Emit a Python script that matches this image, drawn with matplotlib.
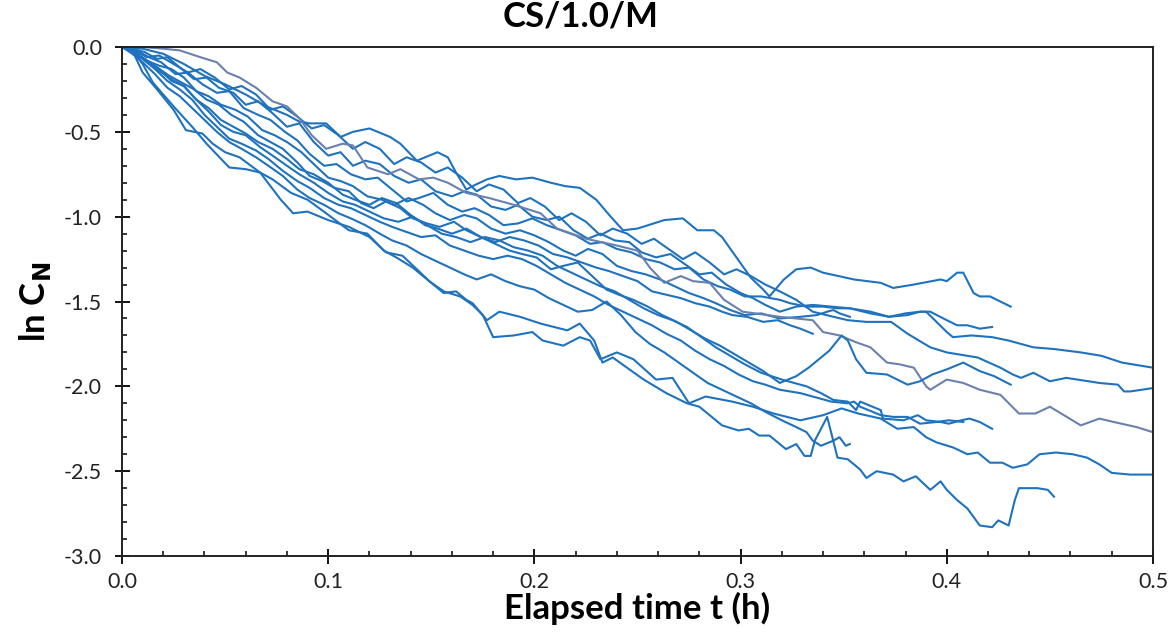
import matplotlib
matplotlib.use("Agg")
import matplotlib.pyplot as plt
from matplotlib.ticker import MultipleLocator, FormatStrFormatter

plt.rcParams['font.family'] = ['Lato', 'DejaVu Sans']
plt.rcParams['axes.unicode_minus'] = False

# each run: (elapsed time h, ln C_N)
run_a = [(0.000, 0.00), (0.010, -0.01), (0.020, -0.04), (0.030, -0.10), (0.040, -0.17), (0.050, -0.22),
         (0.060, -0.28), (0.070, -0.35), (0.080, -0.40), (0.086, -0.44), (0.091, -0.45), (0.099, -0.45),
         (0.106, -0.53), (0.112, -0.50), (0.120, -0.48), (0.130, -0.53), (0.135, -0.57), (0.143, -0.67),
         (0.153, -0.62), (0.158, -0.65), (0.162, -0.74), (0.167, -0.84), (0.170, -0.82), (0.177, -0.78),
         (0.183, -0.76), (0.191, -0.78), (0.199, -0.77), (0.208, -0.80), (0.215, -0.82), (0.222, -0.83),
         (0.230, -0.90), (0.237, -1.00), (0.243, -1.08), (0.250, -1.07), (0.263, -1.02), (0.272, -1.01),
         (0.279, -1.08), (0.287, -1.08), (0.291, -1.12), (0.298, -1.24), (0.305, -1.36), (0.311, -1.43),
         (0.314, -1.47), (0.321, -1.37), (0.327, -1.31), (0.334, -1.30), (0.340, -1.33), (0.355, -1.37),
         (0.368, -1.39), (0.374, -1.42), (0.384, -1.40), (0.397, -1.37), (0.400, -1.38), (0.405, -1.33),
         (0.408, -1.33), (0.413, -1.45), (0.416, -1.47), (0.421, -1.47), (0.431, -1.53)]

run_grey = [(0.000, 0.00), (0.010, 0.00), (0.020, -0.01), (0.028, -0.02), (0.038, -0.06), (0.046, -0.09),
            (0.051, -0.15), (0.057, -0.18), (0.065, -0.24), (0.068, -0.27), (0.073, -0.32), (0.080, -0.35),
            (0.086, -0.42), (0.092, -0.52), (0.099, -0.60), (0.107, -0.57), (0.112, -0.58), (0.119, -0.71),
            (0.129, -0.75), (0.135, -0.72), (0.144, -0.78), (0.151, -0.77), (0.158, -0.80), (0.167, -0.86),
            (0.178, -0.89), (0.190, -0.93), (0.203, -0.98), (0.211, -1.07), (0.225, -1.13), (0.240, -1.17),
            (0.250, -1.20), (0.256, -1.30), (0.263, -1.39), (0.271, -1.35), (0.277, -1.38), (0.285, -1.39),
            (0.292, -1.49), (0.301, -1.56), (0.319, -1.59), (0.335, -1.61), (0.340, -1.68), (0.348, -1.70),
            (0.356, -1.74), (0.363, -1.77), (0.371, -1.86), (0.377, -1.87), (0.384, -1.89), (0.390, -2.00),
            (0.392, -2.02), (0.400, -1.96), (0.408, -1.98), (0.416, -2.02), (0.426, -2.05), (0.435, -2.16),
            (0.443, -2.16), (0.450, -2.12), (0.465, -2.23), (0.474, -2.19), (0.481, -2.21), (0.492, -2.24),
            (0.500, -2.27)]

run_low = [(0.000, 0.00), (0.005, -0.02), (0.010, -0.15), (0.017, -0.25), (0.025, -0.37), (0.031, -0.49),
           (0.039, -0.51), (0.044, -0.57), (0.050, -0.62), (0.057, -0.65), (0.067, -0.74), (0.073, -0.78),
           (0.082, -0.86), (0.090, -0.90), (0.099, -0.98), (0.110, -1.08), (0.119, -1.10), (0.127, -1.20),
           (0.133, -1.24), (0.141, -1.30), (0.148, -1.37), (0.156, -1.45), (0.162, -1.44), (0.167, -1.49),
           (0.170, -1.51), (0.177, -1.61), (0.183, -1.56), (0.193, -1.59), (0.203, -1.63), (0.216, -1.67),
           (0.222, -1.63), (0.229, -1.73), (0.233, -1.86), (0.238, -1.83), (0.253, -1.96), (0.264, -2.04),
           (0.274, -2.10), (0.280, -2.12), (0.291, -2.23), (0.299, -2.26), (0.304, -2.25), (0.309, -2.29),
           (0.314, -2.29), (0.322, -2.37), (0.327, -2.34), (0.331, -2.41), (0.334, -2.41), (0.336, -2.32),
           (0.342, -2.18), (0.347, -2.42), (0.352, -2.43), (0.358, -2.49), (0.361, -2.54), (0.366, -2.50),
           (0.374, -2.52), (0.379, -2.56), (0.385, -2.53), (0.392, -2.61), (0.397, -2.56), (0.400, -2.61),
           (0.405, -2.67), (0.410, -2.72), (0.416, -2.82), (0.422, -2.83), (0.425, -2.79), (0.430, -2.82),
           (0.433, -2.67), (0.435, -2.60), (0.444, -2.60), (0.449, -2.61), (0.452, -2.65)]

run_b = [(0.000, 0.00), (0.005, -0.02), (0.010, -0.10), (0.015, -0.21), (0.025, -0.35), (0.034, -0.47),
         (0.041, -0.57), (0.052, -0.71), (0.060, -0.72), (0.067, -0.74), (0.077, -0.90), (0.083, -0.98),
         (0.090, -0.97), (0.100, -1.02), (0.110, -1.06), (0.120, -1.12), (0.128, -1.21), (0.136, -1.23),
         (0.143, -1.31), (0.149, -1.38), (0.156, -1.44), (0.164, -1.47), (0.170, -1.52), (0.175, -1.58),
         (0.180, -1.71), (0.190, -1.70), (0.199, -1.68), (0.204, -1.73), (0.214, -1.76), (0.222, -1.71),
         (0.227, -1.73), (0.232, -1.84), (0.240, -1.80), (0.248, -1.84), (0.259, -1.96), (0.267, -1.95),
         (0.275, -2.10), (0.283, -2.06), (0.296, -2.09), (0.306, -2.12), (0.316, -2.16), (0.329, -2.20),
         (0.340, -2.17), (0.349, -2.13), (0.357, -2.16), (0.368, -2.19), (0.376, -2.25), (0.384, -2.24),
         (0.390, -2.30), (0.395, -2.33), (0.403, -2.36), (0.410, -2.40), (0.415, -2.39), (0.421, -2.45),
         (0.427, -2.45), (0.432, -2.48), (0.439, -2.46), (0.442, -2.43), (0.445, -2.40), (0.453, -2.39),
         (0.461, -2.40), (0.468, -2.42), (0.474, -2.46), (0.480, -2.51), (0.489, -2.52), (0.500, -2.52)]

run_c = [(0.000, 0.00), (0.006, -0.02), (0.012, -0.06), (0.018, -0.05), (0.025, -0.10), (0.032, -0.15),
         (0.038, -0.13), (0.045, -0.18), (0.052, -0.25), (0.058, -0.23), (0.065, -0.28), (0.072, -0.37),
         (0.078, -0.35), (0.085, -0.41), (0.092, -0.48), (0.098, -0.46), (0.105, -0.52), (0.112, -0.60),
         (0.118, -0.56), (0.125, -0.60), (0.132, -0.69), (0.138, -0.65), (0.145, -0.68), (0.152, -0.74),
         (0.158, -0.71), (0.165, -0.77), (0.172, -0.85), (0.178, -0.81), (0.185, -0.84), (0.192, -0.92),
         (0.198, -0.89), (0.205, -0.94), (0.212, -1.02), (0.218, -0.98), (0.225, -1.03), (0.232, -1.11),
         (0.238, -1.07), (0.245, -1.10), (0.252, -1.16), (0.258, -1.13), (0.265, -1.19), (0.272, -1.25),
         (0.278, -1.21), (0.285, -1.27), (0.292, -1.34), (0.298, -1.31), (0.305, -1.35), (0.312, -1.40),
         (0.319, -1.44), (0.327, -1.49), (0.335, -1.56), (0.345, -1.59), (0.352, -1.61), (0.361, -1.62),
         (0.373, -1.62), (0.381, -1.69), (0.392, -1.77), (0.400, -1.80), (0.415, -1.83), (0.426, -1.89),
         (0.432, -1.93), (0.436, -1.95), (0.442, -1.92), (0.450, -1.97), (0.458, -1.95), (0.474, -1.98),
         (0.483, -1.99), (0.486, -2.03), (0.489, -2.03), (0.500, -2.01)]

run_d = [(0.000, 0.00), (0.005, -0.01), (0.011, -0.03), (0.017, -0.07), (0.022, -0.06), (0.028, -0.12),
         (0.035, -0.19), (0.041, -0.18), (0.047, -0.24), (0.054, -0.27), (0.060, -0.34), (0.066, -0.32),
         (0.073, -0.39), (0.080, -0.47), (0.086, -0.45), (0.093, -0.56), (0.100, -0.64), (0.106, -0.62),
         (0.112, -0.70), (0.118, -0.67), (0.125, -0.69), (0.132, -0.76), (0.139, -0.80), (0.145, -0.78),
         (0.152, -0.85), (0.160, -0.88), (0.166, -0.85), (0.172, -0.87), (0.179, -0.94), (0.186, -0.96),
         (0.192, -0.93), (0.199, -1.00), (0.206, -1.02), (0.212, -1.00), (0.219, -1.08), (0.226, -1.13),
         (0.232, -1.10), (0.239, -1.14), (0.246, -1.15), (0.252, -1.21), (0.259, -1.24), (0.266, -1.22),
         (0.273, -1.28), (0.280, -1.34), (0.286, -1.33), (0.293, -1.40), (0.300, -1.45), (0.306, -1.48),
         (0.312, -1.52), (0.319, -1.56), (0.327, -1.53), (0.335, -1.52), (0.344, -1.53), (0.353, -1.54),
         (0.363, -1.57), (0.372, -1.59), (0.380, -1.57), (0.387, -1.56), (0.390, -1.56), (0.400, -1.68),
         (0.403, -1.71), (0.412, -1.70), (0.422, -1.71), (0.430, -1.73), (0.439, -1.76), (0.442, -1.77),
         (0.452, -1.78), (0.465, -1.80), (0.475, -1.82), (0.485, -1.86), (0.500, -1.89)]

run_e = [(0.000, 0.00), (0.007, -0.02), (0.013, -0.06), (0.019, -0.09), (0.026, -0.16), (0.032, -0.15),
         (0.039, -0.22), (0.046, -0.27), (0.052, -0.26), (0.059, -0.36), (0.066, -0.40), (0.072, -0.43),
         (0.079, -0.50), (0.085, -0.55), (0.091, -0.63), (0.098, -0.70), (0.104, -0.69), (0.111, -0.75),
         (0.118, -0.78), (0.124, -0.77), (0.131, -0.84), (0.138, -0.91), (0.144, -0.89), (0.151, -0.86),
         (0.158, -0.93), (0.165, -0.97), (0.171, -0.95), (0.178, -0.99), (0.185, -1.05), (0.192, -1.04),
         (0.199, -1.01), (0.206, -1.05), (0.213, -1.08), (0.220, -1.11), (0.227, -1.16), (0.233, -1.15),
         (0.240, -1.19), (0.247, -1.21), (0.254, -1.25), (0.261, -1.27), (0.268, -1.31), (0.275, -1.30),
         (0.282, -1.37), (0.289, -1.41), (0.295, -1.43), (0.302, -1.47), (0.310, -1.47), (0.319, -1.49),
         (0.324, -1.51), (0.332, -1.53), (0.340, -1.53), (0.347, -1.54), (0.353, -1.54), (0.363, -1.56),
         (0.372, -1.59), (0.381, -1.58), (0.387, -1.56), (0.392, -1.56), (0.400, -1.61), (0.405, -1.64),
         (0.410, -1.64), (0.416, -1.66), (0.422, -1.65)]

run_f = [(0.000, 0.00), (0.006, -0.03), (0.012, -0.08), (0.018, -0.11), (0.024, -0.13), (0.030, -0.18),
         (0.036, -0.26), (0.042, -0.29), (0.048, -0.34), (0.055, -0.37), (0.061, -0.41), (0.068, -0.49),
         (0.074, -0.52), (0.080, -0.56), (0.087, -0.62), (0.093, -0.69), (0.100, -0.77), (0.106, -0.79),
         (0.112, -0.82), (0.119, -0.88), (0.126, -0.90), (0.132, -0.93), (0.139, -0.89), (0.146, -0.93),
         (0.152, -0.98), (0.159, -1.02), (0.166, -0.99), (0.172, -1.01), (0.179, -1.07), (0.186, -1.10),
         (0.193, -1.08), (0.200, -1.11), (0.207, -1.15), (0.214, -1.20), (0.220, -1.23), (0.226, -1.19),
         (0.233, -1.22), (0.240, -1.29), (0.247, -1.32), (0.254, -1.34), (0.261, -1.37), (0.268, -1.41),
         (0.275, -1.45), (0.282, -1.48), (0.288, -1.51), (0.295, -1.55), (0.302, -1.58), (0.310, -1.57),
         (0.319, -1.60), (0.329, -1.59), (0.337, -1.58), (0.342, -1.56), (0.345, -1.55), (0.348, -1.57),
         (0.353, -1.59)]

run_g = [(0.000, 0.00), (0.005, -0.03), (0.011, -0.07), (0.017, -0.12), (0.023, -0.17), (0.029, -0.21),
         (0.035, -0.25), (0.041, -0.31), (0.047, -0.34), (0.053, -0.40), (0.059, -0.44), (0.066, -0.52),
         (0.072, -0.56), (0.078, -0.60), (0.085, -0.68), (0.091, -0.76), (0.097, -0.79), (0.103, -0.83),
         (0.110, -0.85), (0.116, -0.92), (0.122, -0.95), (0.128, -0.91), (0.135, -0.95), (0.141, -1.01),
         (0.148, -1.04), (0.154, -1.06), (0.161, -1.03), (0.167, -1.08), (0.174, -1.12), (0.181, -1.15),
         (0.188, -1.12), (0.195, -1.14), (0.202, -1.17), (0.209, -1.22), (0.216, -1.24), (0.223, -1.27),
         (0.230, -1.30), (0.236, -1.32), (0.243, -1.35), (0.250, -1.38), (0.257, -1.44), (0.264, -1.46),
         (0.271, -1.48), (0.278, -1.51), (0.285, -1.53), (0.291, -1.56), (0.296, -1.58), (0.303, -1.59),
         (0.311, -1.62), (0.318, -1.61), (0.324, -1.64), (0.329, -1.66), (0.335, -1.69)]

run_h = [(0.000, 0.00), (0.006, -0.03), (0.012, -0.09), (0.018, -0.14), (0.024, -0.19), (0.030, -0.23),
         (0.036, -0.31), (0.042, -0.36), (0.048, -0.43), (0.054, -0.47), (0.060, -0.51), (0.066, -0.56),
         (0.073, -0.60), (0.080, -0.66), (0.086, -0.72), (0.093, -0.75), (0.100, -0.80), (0.107, -0.87),
         (0.113, -0.90), (0.120, -0.93), (0.126, -0.89), (0.133, -0.92), (0.140, -0.99), (0.147, -1.05),
         (0.153, -1.07), (0.160, -1.10), (0.167, -1.07), (0.174, -1.12), (0.181, -1.16), (0.188, -1.20),
         (0.194, -1.22), (0.201, -1.24), (0.208, -1.31), (0.214, -1.29), (0.221, -1.27), (0.228, -1.35),
         (0.235, -1.43), (0.241, -1.46), (0.248, -1.49), (0.255, -1.53), (0.262, -1.58), (0.269, -1.62),
         (0.276, -1.67), (0.283, -1.72), (0.290, -1.76), (0.297, -1.81), (0.304, -1.86), (0.311, -1.91),
         (0.319, -1.98), (0.327, -1.94), (0.333, -1.89), (0.338, -1.84), (0.343, -1.79), (0.349, -1.70),
         (0.352, -1.73), (0.356, -1.84), (0.361, -1.92), (0.371, -1.93), (0.381, -1.99), (0.387, -1.97),
         (0.393, -1.93), (0.400, -1.90), (0.408, -1.86), (0.416, -1.91), (0.423, -1.94), (0.431, -1.99)]

run_i = [(0.000, 0.00), (0.006, -0.03), (0.012, -0.08), (0.018, -0.13), (0.024, -0.20), (0.030, -0.23),
         (0.036, -0.31), (0.042, -0.38), (0.048, -0.46), (0.054, -0.50), (0.060, -0.52), (0.067, -0.59),
         (0.073, -0.64), (0.080, -0.70), (0.086, -0.75), (0.093, -0.80), (0.100, -0.86), (0.107, -0.91),
         (0.113, -0.93), (0.120, -0.97), (0.127, -1.01), (0.134, -1.03), (0.141, -1.00), (0.148, -1.05),
         (0.155, -1.10), (0.162, -1.12), (0.169, -1.15), (0.176, -1.12), (0.183, -1.14), (0.190, -1.18),
         (0.197, -1.20), (0.204, -1.23), (0.211, -1.29), (0.218, -1.33), (0.225, -1.37), (0.232, -1.41),
         (0.239, -1.44), (0.246, -1.49), (0.253, -1.54), (0.260, -1.58), (0.267, -1.61), (0.274, -1.65),
         (0.281, -1.71), (0.288, -1.77), (0.295, -1.82), (0.302, -1.87), (0.310, -1.92), (0.320, -1.96),
         (0.332, -2.00), (0.339, -2.04), (0.345, -2.08), (0.352, -2.09), (0.356, -2.14), (0.358, -2.09),
         (0.364, -2.12), (0.368, -2.14), (0.369, -2.19), (0.379, -2.20), (0.386, -2.17), (0.390, -2.20),
         (0.397, -2.21), (0.401, -2.22), (0.407, -2.20), (0.411, -2.19), (0.416, -2.21), (0.422, -2.25)]

run_j = [(0.000, 0.00), (0.005, -0.03), (0.010, -0.07), (0.016, -0.13), (0.022, -0.20), (0.028, -0.25),
         (0.034, -0.31), (0.040, -0.40), (0.046, -0.47), (0.052, -0.54), (0.058, -0.57), (0.065, -0.61),
         (0.071, -0.66), (0.078, -0.73), (0.085, -0.79), (0.091, -0.83), (0.098, -0.89), (0.105, -0.93),
         (0.111, -0.95), (0.118, -0.99), (0.125, -1.03), (0.131, -1.06), (0.138, -1.09), (0.145, -1.12),
         (0.152, -1.11), (0.159, -1.17), (0.166, -1.20), (0.173, -1.23), (0.180, -1.25), (0.187, -1.23),
         (0.194, -1.25), (0.201, -1.29), (0.208, -1.34), (0.215, -1.39), (0.222, -1.43), (0.229, -1.47),
         (0.236, -1.52), (0.243, -1.56), (0.250, -1.60), (0.257, -1.64), (0.264, -1.69), (0.271, -1.73),
         (0.278, -1.79), (0.285, -1.84), (0.292, -1.88), (0.299, -1.93), (0.306, -1.97), (0.312, -1.99),
         (0.319, -2.02), (0.329, -2.04), (0.335, -2.06), (0.344, -2.09), (0.352, -2.10), (0.355, -2.09),
         (0.358, -2.12), (0.368, -2.17), (0.374, -2.18), (0.381, -2.18), (0.387, -2.22), (0.395, -2.21),
         (0.401, -2.20), (0.408, -2.21)]

run_k = [(0.000, 0.00), (0.005, -0.04), (0.010, -0.09), (0.016, -0.16), (0.022, -0.24), (0.028, -0.29),
         (0.034, -0.36), (0.040, -0.43), (0.046, -0.50), (0.052, -0.56), (0.058, -0.60), (0.065, -0.65),
         (0.071, -0.70), (0.078, -0.76), (0.085, -0.84), (0.091, -0.89), (0.098, -0.93), (0.105, -0.98),
         (0.111, -1.01), (0.118, -1.05), (0.125, -1.10), (0.131, -1.14), (0.138, -1.17), (0.145, -1.22),
         (0.152, -1.26), (0.159, -1.30), (0.166, -1.34), (0.172, -1.37), (0.179, -1.34), (0.186, -1.38),
         (0.193, -1.41), (0.200, -1.43), (0.207, -1.48), (0.214, -1.52), (0.221, -1.56), (0.228, -1.55),
         (0.235, -1.50), (0.242, -1.58), (0.249, -1.68), (0.256, -1.75), (0.263, -1.80), (0.270, -1.86),
         (0.277, -1.92), (0.284, -1.98), (0.291, -2.02), (0.298, -2.06), (0.305, -2.10), (0.312, -2.15),
         (0.320, -2.20), (0.327, -2.24), (0.332, -2.27), (0.335, -2.32), (0.339, -2.35), (0.345, -2.32),
         (0.348, -2.30), (0.351, -2.35), (0.353, -2.34)]

blue_runs = [run_a, run_c, run_d, run_e, run_f, run_g, run_h, run_i, run_j, run_k, run_b, run_low]

x_ticks = [0.0, 0.1, 0.2, 0.3, 0.4, 0.5]
y_ticks = [-3.0, -2.5, -2.0, -1.5, -1.0, -0.5, 0.0]

fig = plt.figure(figsize=(11.71, 6.44), dpi=100)
ax = fig.add_axes([0.1042, 0.1366, 0.8804, 0.7904])

line_blue = "#1f72bd"
line_grey = "#6a80ae"

for run in blue_runs[:6]:
    t, v = zip(*run)
    ax.plot(t, v, color=line_blue, lw=1.5)
t, v = zip(*run_grey)
ax.plot(t, v, color=line_grey, lw=1.5)
for run in blue_runs[6:]:
    t, v = zip(*run)
    ax.plot(t, v, color=line_blue, lw=1.5)

ax.set_xlim(0, 0.5)
ax.set_ylim(-3.0, 0.0)
ax.set_xticks(x_ticks)
ax.set_yticks(y_ticks)
ax.xaxis.set_minor_locator(MultipleLocator(0.02))
ax.yaxis.set_minor_locator(MultipleLocator(0.1))
ax.xaxis.set_major_formatter(FormatStrFormatter('%.1f'))
ax.yaxis.set_major_formatter(FormatStrFormatter('%.1f'))

ax.tick_params(which='major', direction='inout', length=10.8, width=1.3, labelsize=15.5,
               colors='black', labelcolor='#222222')
ax.tick_params(which='minor', direction='in', length=3.8, width=1.1)
ax.tick_params(axis='x', which='major', pad=6)
ax.tick_params(axis='y', which='major', pad=9)

for s in ax.spines.values():
    s.set_linewidth(1.4)
    s.set_color('#222222')

ax.set_xlabel("Elapsed time t (h)", fontsize=25, fontweight='bold', labelpad=0)
ax.set_ylabel("ln C$_\\mathbf{N}$", fontsize=25, fontweight='bold', labelpad=8)
fig.suptitle("CS/1.0/M", fontsize=25, fontweight='bold', x=0.496, y=1.0)

fig.savefig("out.png", dpi=100)
